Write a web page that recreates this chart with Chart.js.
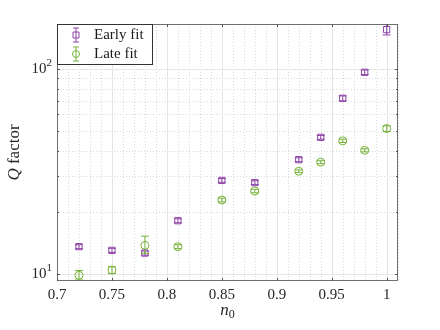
<!DOCTYPE html>
<html><head><meta charset="utf-8">
<script src="https://cdn.jsdelivr.net/npm/chart.js@4.4.0/dist/chart.umd.min.js"></script>
<style>html,body{margin:0;padding:0;background:#fff}#wrap{width:440px;height:330px}</style>
</head><body><div id="wrap"><canvas id="c" width="440" height="330"></canvas></div>
<script>
const n0 = [0.72, 0.75, 0.78, 0.81, 0.85, 0.88, 0.92, 0.94, 0.96, 0.98, 1.0];
const earlyQ = [13.6, 13.05, 12.65, 18.2, 28.6, 27.9, 36.1, 46.4, 71.9, 96.3, 155.5];
const earlyErr = [0.3, 0.3, 0.3, 0.4, 0.6, 0.6, 0.8, 1.0, 2.0, 2.5, 9.0];
const lateQ = [9.86, 10.46, 13.8, 13.6, 22.96, 25.4, 31.7, 35.1, 44.6, 40.1, 51.2];
const lateErrUp = [0.55, 0.4, 1.5, 0.3, 0.5, 0.5, 0.5, 0.6, 0.8, 0.7, 1.6];
const lateErrDn = [0.5, 0.4, 1.2, 0.3, 0.5, 0.5, 0.5, 0.6, 0.8, 0.7, 1.6];
const xTicks = [0.7, 0.75, 0.8, 0.85, 0.9, 0.95, 1];
const xTickLabels = ['0.7', '0.75', '0.8', '0.85', '0.9', '0.95', '1'];
const yMajor = [10, 100];
const yMinor = [20, 30, 40, 50, 60, 70, 80, 90];
const seriesNames = ['Early fit', 'Late fit'];

const PURPLE = '#8E44A8';
const GREEN = '#77B238';
const SERIF = '"Liberation Serif", "DejaVu Serif", serif';

const errUp = [earlyErr, lateErrUp];
const errDn = [earlyErr, lateErrDn];

const gridPlugin = {
  id: 'grid',
  beforeDatasetsDraw(chart) {
    const {ctx, chartArea: a, scales: {x, y}} = chart;
    ctx.save();
    ctx.lineWidth = 1;
    // minor x grid
    ctx.strokeStyle = '#d9d9d9';
    ctx.setLineDash([1, 2]);
    for (let i = 70; i <= 101; i++) {
      if (i % 5 === 0) continue;
      const px = Math.round(x.getPixelForValue(i / 100)) + 0.5;
      ctx.beginPath(); ctx.moveTo(px, a.top); ctx.lineTo(px, a.bottom); ctx.stroke();
    }
    yMinor.forEach(v => {
      const py = Math.round(y.getPixelForValue(v)) + 0.5;
      ctx.beginPath(); ctx.moveTo(a.left, py); ctx.lineTo(a.right, py); ctx.stroke();
    });
    ctx.setLineDash([]);
    ctx.strokeStyle = '#e6e6e6';
    xTicks.forEach(v => {
      const px = Math.round(x.getPixelForValue(v)) + 0.5;
      ctx.beginPath(); ctx.moveTo(px, a.top); ctx.lineTo(px, a.bottom); ctx.stroke();
    });
    yMajor.forEach(v => {
      const py = Math.round(y.getPixelForValue(v)) + 0.5;
      ctx.beginPath(); ctx.moveTo(a.left, py); ctx.lineTo(a.right, py); ctx.stroke();
    });
    ctx.restore();
  },
  afterDatasetsDraw(chart) {
    const {ctx, chartArea: a, scales: {x, y}} = chart;
    ctx.save();
    // error bars
    chart.data.datasets.forEach((ds, di) => {
      ctx.strokeStyle = ds.borderColor;
      ctx.lineWidth = 1;
      ds.data.forEach((p, i) => {
        const px = x.getPixelForValue(p.x);
        const yt = y.getPixelForValue(p.y + errUp[di][i]);
        const yb = y.getPixelForValue(p.y - errDn[di][i]);
        ctx.beginPath();
        ctx.moveTo(px, yt); ctx.lineTo(px, yb);
        ctx.moveTo(px - 4, yt); ctx.lineTo(px + 4, yt);
        ctx.moveTo(px - 4, yb); ctx.lineTo(px + 4, yb);
        ctx.stroke();
      });
    });
    // box
    ctx.strokeStyle = '#707070';
    ctx.lineWidth = 1;
    ctx.strokeRect(a.left + 0.5, a.top + 0.5, a.right - a.left - 1, a.bottom - a.top - 1);
    // ticks
    ctx.strokeStyle = '#555';
    xTicks.forEach(v => {
      const px = Math.round(x.getPixelForValue(v)) + 0.5;
      ctx.beginPath(); ctx.moveTo(px, a.bottom); ctx.lineTo(px, a.bottom - 3);
      ctx.moveTo(px, a.top); ctx.lineTo(px, a.top + 3); ctx.stroke();
    });
    yMajor.forEach(v => {
      const py = Math.round(y.getPixelForValue(v)) + 0.5;
      ctx.beginPath(); ctx.moveTo(a.left, py); ctx.lineTo(a.left + 3, py);
      ctx.moveTo(a.right, py); ctx.lineTo(a.right - 3, py); ctx.stroke();
    });
    yMinor.forEach(v => {
      const py = Math.round(y.getPixelForValue(v)) + 0.5;
      ctx.beginPath(); ctx.moveTo(a.left, py); ctx.lineTo(a.left + 2, py);
      ctx.moveTo(a.right, py); ctx.lineTo(a.right - 2, py); ctx.stroke();
    });
    // tick labels
    ctx.fillStyle = '#262626';
    ctx.font = '15px ' + SERIF;
    ctx.textAlign = 'center'; ctx.textBaseline = 'middle';
    xTicks.forEach((v, i) => {
      ctx.fillText(xTickLabels[i], x.getPixelForValue(v), a.bottom + 14);
    });
    yMajor.forEach(v => {
      const py = y.getPixelForValue(v);
      const exp = String(Math.round(Math.log10(v)));
      ctx.font = '11px ' + SERIF;
      ctx.textAlign = 'right';
      const ew = ctx.measureText(exp).width;
      ctx.fillText(exp, a.left - 5, py - 6);
      ctx.font = '15px ' + SERIF;
      ctx.fillText('10', a.left - 5 - ew, py);
    });
    // axis titles
    ctx.textAlign = 'left'; ctx.textBaseline = 'alphabetic';
    ctx.font = 'italic 17px ' + SERIF;
    const nW = ctx.measureText('n').width;
    ctx.font = '12px ' + SERIF;
    const zW = ctx.measureText('0').width;
    const cx = (a.left + a.right) / 2;
    let sx = cx - (nW + zW) / 2;
    ctx.font = 'italic 17px ' + SERIF;
    ctx.fillText('n', sx, 315);
    ctx.font = '12px ' + SERIF;
    ctx.fillText('0', sx + nW, 318);
    // y title
    ctx.save();
    ctx.translate(19, (a.top + a.bottom) / 2);
    ctx.rotate(-Math.PI / 2);
    ctx.font = 'italic 17px ' + SERIF;
    const qW = ctx.measureText('Q').width;
    ctx.font = '17px ' + SERIF;
    const fW = ctx.measureText(' factor').width;
    let tx = -(qW + fW) / 2;
    ctx.font = 'italic 17px ' + SERIF;
    ctx.fillText('Q', tx, 0);
    ctx.font = '17px ' + SERIF;
    ctx.fillText(' factor', tx + qW, 0);
    ctx.restore();
    // legend
    const lx = a.left, ly = a.top, lw = 95, lh = 40;
    ctx.fillStyle = '#fff';
    ctx.fillRect(lx, ly, lw, lh);
    ctx.strokeStyle = '#333';
    ctx.strokeRect(lx + 0.5, ly + 0.5, lw, lh);
    chart.data.datasets.forEach((ds, di) => {
      const my = ly + 11 + di * 19;
      const mx = lx + 19;
      ctx.strokeStyle = ds.borderColor;
      ctx.lineWidth = 1;
      ctx.beginPath();
      ctx.moveTo(mx, my - 7); ctx.lineTo(mx, my + 7);
      ctx.moveTo(mx - 3, my - 7); ctx.lineTo(mx + 3, my - 7);
      ctx.moveTo(mx - 3, my + 7); ctx.lineTo(mx + 3, my + 7);
      ctx.stroke();
      ctx.beginPath();
      if (di === 0) ctx.rect(mx - 3, my - 3, 6, 6);
      else ctx.arc(mx, my, 3.5, 0, Math.PI * 2);
      ctx.stroke();
      ctx.fillStyle = '#1a1a1a';
      ctx.font = '15px ' + SERIF;
      ctx.textBaseline = 'middle';
      ctx.fillText(seriesNames[di], lx + 37, my);
    });
    ctx.restore();
  }
};

const mk = (ys) => n0.map((v, i) => ({x: v, y: ys[i]}));

new Chart(document.getElementById('c'), {
  type: 'scatter',
  data: {
    datasets: [
      {label: seriesNames[0], data: mk(earlyQ), pointStyle: 'rect', radius: 4.4, borderColor: PURPLE, backgroundColor: 'rgba(0,0,0,0)', borderWidth: 1, pointHoverRadius: 4.4},
      {label: seriesNames[1], data: mk(lateQ), pointStyle: 'circle', radius: 4, borderColor: GREEN, backgroundColor: 'rgba(0,0,0,0)', borderWidth: 1, pointHoverRadius: 4}
    ]
  },
  options: {
    responsive: false,
    animation: false,
    events: [],
    layout: {padding: {left: 57, right: 42, top: 24, bottom: 49}},
    plugins: {legend: {display: false}, tooltip: {enabled: false}},
    scales: {
      x: {type: 'linear', min: 0.7, max: 1.0103, grid: {display: false}, border: {display: false}, ticks: {display: false},
          afterFit(s) { s.height = 0; }},
      y: {type: 'logarithmic', min: 9.25, max: 165.6, grid: {display: false}, border: {display: false}, ticks: {display: false},
          afterFit(s) { s.width = 0; }}
    }
  },
  plugins: [gridPlugin]
});
</script></body></html>
